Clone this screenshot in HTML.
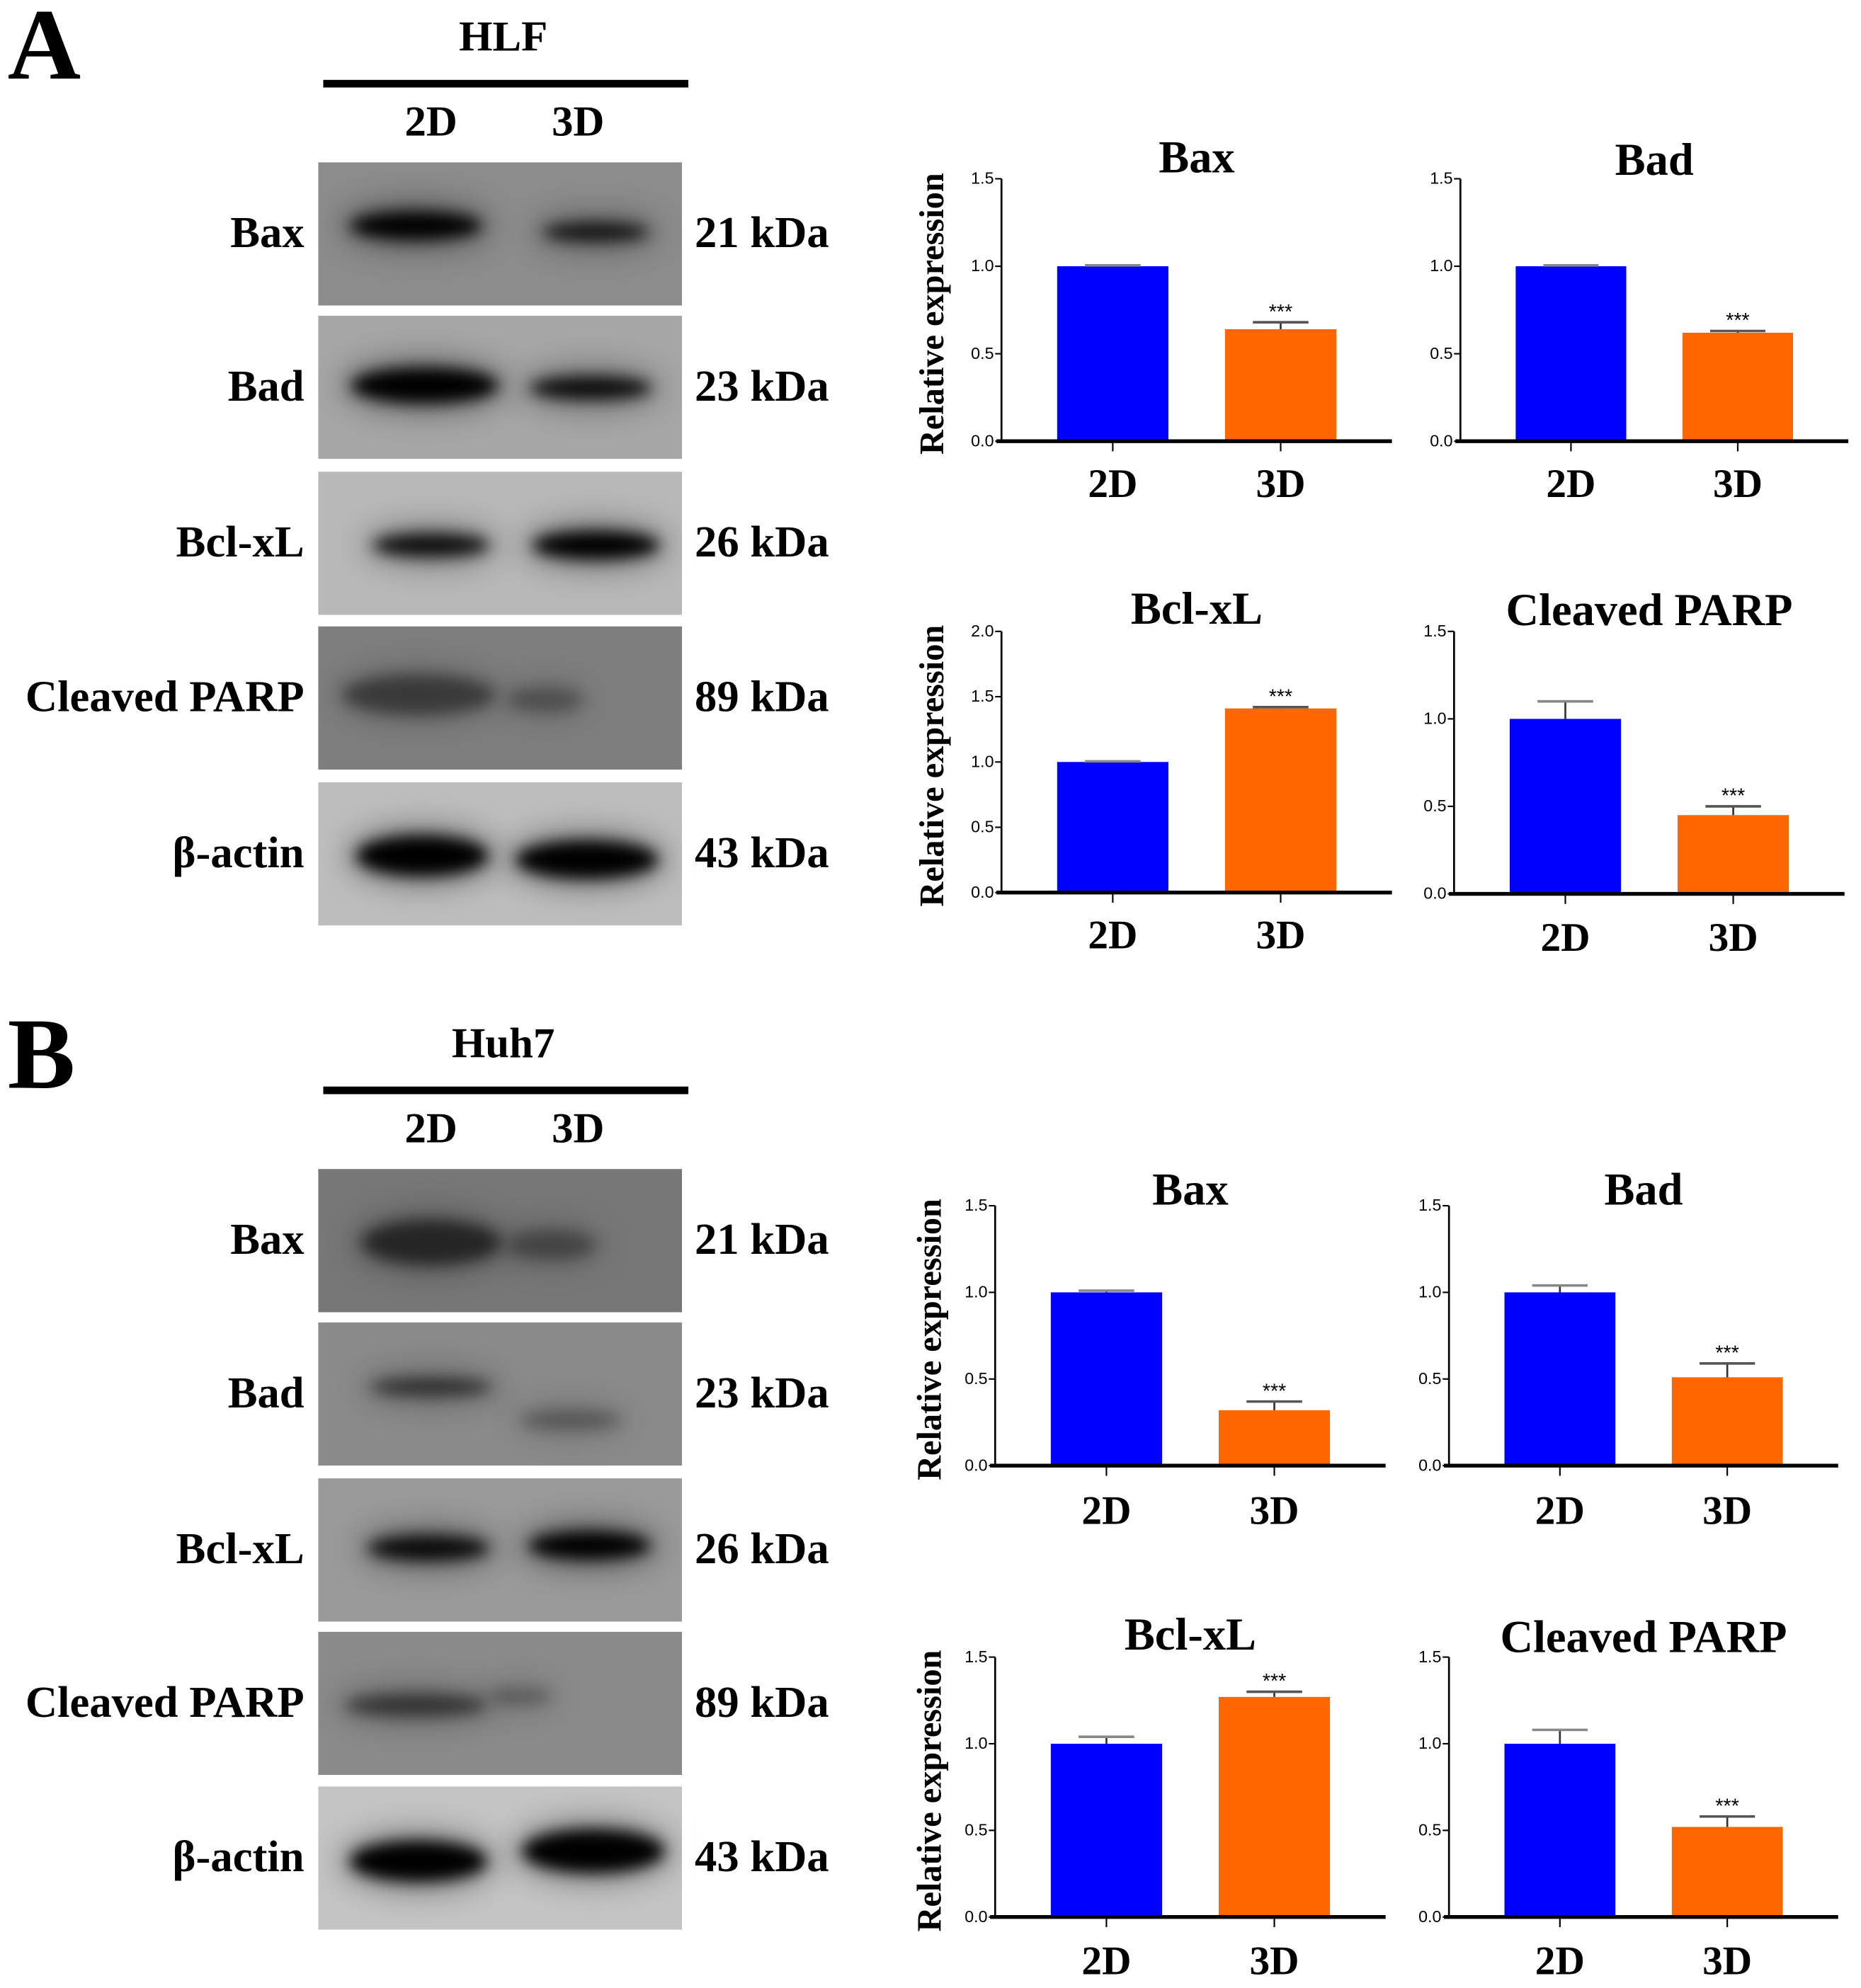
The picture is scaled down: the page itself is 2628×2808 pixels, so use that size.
<!DOCTYPE html>
<html><head><meta charset="utf-8">
<style>
html,body{margin:0;padding:0;background:#fff;}
svg{display:block;}
text{font-family:"Liberation Serif",serif;font-weight:bold;fill:#000;}
.tick{font-family:"Liberation Sans",sans-serif;font-weight:normal;font-size:13px;}
</style></head>
<body>
<svg id="fig" width="2628" height="2808" viewBox="0 0 1468 1568" preserveAspectRatio="none" xmlns="http://www.w3.org/2000/svg">
<defs>
<filter id="blur6" x="-30%" y="-100%" width="160%" height="300%"><feGaussianBlur stdDeviation="6"/></filter>
<filter id="blur12" x="-30%" y="-100%" width="160%" height="300%"><feGaussianBlur stdDeviation="12"/></filter>
</defs>
<g id="blots"></g>
<g id="charts"></g>
</svg>
<script>
const NS="http://www.w3.org/2000/svg";
const svg=document.getElementById('fig');
function mk(tag,attrs,parent,txt){const e=document.createElementNS(NS,tag);for(const k in attrs)e.setAttribute(k,attrs[k]);if(txt!==undefined)e.textContent=txt;(parent||svg).appendChild(e);return e;}

// ---------- blot panels ----------
const proteins=["Bax","Bad","Bcl-xL","Cleaved PARP","β-actin"];
const kda=["21 kDa","23 kDa","26 kDa","89 kDa","43 kDa"];
const blotsG=document.getElementById('blots');
const panels=[
 {label:"A",cell:"HLF",labelY:62,cellY:40,lineY:66,laneY:107,rows:[128,249,372,494,617],
  bg:["#8c8c8c","#a6a6a6","#b8b8b8","#7e7e7e","#bdbdbd"],
  bands:[[[328,178,52,11,1],[470,183,42,7,0.85]],[[335,304,58,14,1],[466,306,48,9,0.9]],[[340,430,46,9,0.9],[470,430,50,11,1]],[[330,548,60,16,0.45],[430,552,30,10,0.3]],[[333,675,52,16,1],[463,678,56,15,1]]]},
 {label:"B",cell:"Huh7",labelY:858,cellY:834,lineY:860,laneY:901,rows:[922,1043,1166,1287,1409],
  bg:["#777","#8a8a8a","#9a9a9a","#8a8a8a","#c4c4c4"],
  bands:[[[340,980,55,18,0.6],[435,982,35,12,0.35]],[[340,1094,48,7,0.6],[450,1120,40,8,0.3]],[[338,1221,48,10,0.9],[465,1219,48,11,1]],[[328,1345,56,9,0.55],[410,1338,25,6,0.3]],[[330,1468,54,16,1],[468,1460,56,17,1]]]}
];
panels.forEach((p,pi)=>{
  const g=mk('g',{},blotsG);
  
  
  p.rows.forEach((y,ri)=>{
    const rg=mk('g',{},g);
    
    
    mk('rect',{x:251,y:y,width:287,height:113,fill:p.bg[ri]},rg);
    p.bands[ri].forEach(b=>{
      mk('ellipse',{cx:b[0],cy:b[1],rx:b[2]+8,ry:b[3]+8,fill:'#000',opacity:b[4]*0.35,filter:'url(#blur12)'},rg);
      mk('ellipse',{cx:b[0],cy:b[1],rx:b[2],ry:b[3],fill:'#000',opacity:b[4],filter:'url(#blur6)'},rg);
    });
  });
  // white masks to clip blur overflow
  p.rows.forEach((y,ri)=>{ if(ri<4){const n=p.rows[ri+1];mk('rect',{x:240,y:y+113,width:310,height:n-y-113,fill:'#fff'},g);} });
  mk('rect',{x:240,y:p.rows[0]-10,width:310,height:10,fill:'#fff'},g);
  mk('rect',{x:240,y:p.rows[4]+113,width:310,height:20,fill:'#fff'},g);
  mk('rect',{x:538,y:p.rows[0],width:8,height:p.rows[4]+113-p.rows[0],fill:'#fff'},g);
  mk('rect',{x:243,y:p.rows[0],width:8,height:p.rows[4]+113-p.rows[0],fill:'#fff'},g);

  let t=mk('text',{x:6,y:p.labelY,'font-size':80},g,p.label);
  
  t=mk('text',{x:397,y:p.cellY,'font-size':34,'text-anchor':'middle'},g,p.cell);
  
  let l=mk('rect',{x:255,y:p.lineY-3,width:288,height:6,fill:'#000'},g);
  
  ["2D","3D"].forEach((s,i)=>{const tt=mk('text',{x:i?456:340,y:p.laneY,'font-size':34,'text-anchor':'middle'},g,s);
    });
  p.rows.forEach((y,ri)=>{
    const cy=y+67;
    t=mk('text',{x:240,y:cy,'font-size':35,'text-anchor':'end'},g,proteins[ri]);
    
    t=mk('text',{x:548,y:cy,'font-size':35},g,kda[ri]);
    
  });
});

// ---------- chart data ----------
const chartTitles=["Bax","Bad","Bcl-xL","Cleaved PARP","Bax","Bad","Bcl-xL","Cleaved PARP"];
const categories=["2D","3D"];
const means2D=[1.0,1.0,1.0,1.0,1.0,1.0,1.0,1.0];
const means3D=[0.64,0.62,1.41,0.45,0.32,0.51,1.27,0.52];
const err2D=[0.005,0.005,0.005,0.10,0.01,0.04,0.04,0.08];
const err3D=[0.04,0.01,0.01,0.05,0.05,0.08,0.03,0.06];
const yMaxes=[1.5,1.5,2.0,1.5,1.5,1.5,1.5,1.5];
const sigLabels=["***","***","***","***","***","***","***","***"];

// layout (not data)
const layouts=[
 {ax:790,top:141,base:348,end:1098,titleY:136,catY:392,yl:735},
 {ax:1152,top:141,base:348,end:1458,titleY:138,catY:392},
 {ax:790,top:498,base:704,end:1098,titleY:492,catY:748,yl:735},
 {ax:1147,top:498,base:705,end:1455,titleY:493,catY:750},
 {ax:785,top:951,base:1156,end:1093,titleY:950,catY:1202,yl:733},
 {ax:1143,top:951,base:1156,end:1450,titleY:950,catY:1202},
 {ax:785,top:1307,base:1512,end:1093,titleY:1301,catY:1557,yl:733},
 {ax:1143,top:1307,base:1512,end:1450,titleY:1303,catY:1557}
];
const chartsG=document.getElementById('charts');
const colors=["#0000ff","#ff6600"];
layouts.forEach((L,ci)=>{
  const g=mk('g',{},chartsG);
  
  
  const ymax=yMaxes[ci];
  const yS=v=>L.base-(v/ymax)*(L.base-L.top);
  const w=L.end-L.ax;
  const barW=w*0.285;
  const xC=i=>L.ax+w*(i===0?0.285:0.715);
  const vals=[means2D[ci],means3D[ci]], errs=[err2D[ci],err3D[ci]];
  vals.forEach((v,i)=>{
    const x=xC(i)-barW/2;
    const r=mk('rect',{x:x,y:yS(v),width:barW,height:L.base-yS(v),fill:colors[i]},g);
    
    
    const ey=yS(v+errs[i]);
    mk('line',{x1:xC(i),x2:xC(i),y1:yS(v),y2:ey,stroke:'#333','stroke-width':1.5},g);
    const ec=mk('line',{x1:xC(i)-barW*0.25,x2:xC(i)+barW*0.25,y1:ey,y2:ey,stroke:i?'#555':'#888','stroke-width':2},g);
    
    
    if(i===1){const s=mk('text',{x:xC(i),y:ey-3,'font-size':16,'text-anchor':'middle',style:'font-family:Liberation Sans,sans-serif;font-weight:normal'},g,sigLabels[ci]);
      }
    const ct=mk('text',{x:xC(i),y:L.catY,'font-size':32,'text-anchor':'middle'},g,categories[i]);
    
    mk('line',{x1:xC(i),x2:xC(i),y1:L.base,y2:L.base+8,stroke:'#000','stroke-width':1.2},g);
  });
  const ya=mk('line',{x1:L.ax,x2:L.ax,y1:L.top,y2:L.base,stroke:'#000','stroke-width':1.5},g);
  
  const xa=mk('line',{x1:L.ax-4,x2:L.end,y1:L.base,y2:L.base,stroke:'#000','stroke-width':3},g);
  
  for(let v=0;v<=ymax+1e-9;v+=0.5){
    const y=yS(v);
    mk('line',{x1:L.ax-5,x2:L.ax,y1:y,y2:y,stroke:'#000','stroke-width':1.2},g);
    const tl=mk('text',{x:L.ax-6,y:y+4,'text-anchor':'end',class:'tick'},g,v.toFixed(1));
    
  }
  const tt=mk('text',{x:(L.ax+L.end)/2,y:L.titleY,'font-size':36,'text-anchor':'middle'},g,chartTitles[ci]);
  
  if(L.yl){
    const cy=(L.top+L.base)/2+3;
    const yt=mk('text',{x:0,y:0,'font-size':27,'text-anchor':'middle',transform:`translate(${L.yl+9},${cy}) rotate(-90)`},g,'Relative expression');
    
  }
});
</script>
</body></html>
